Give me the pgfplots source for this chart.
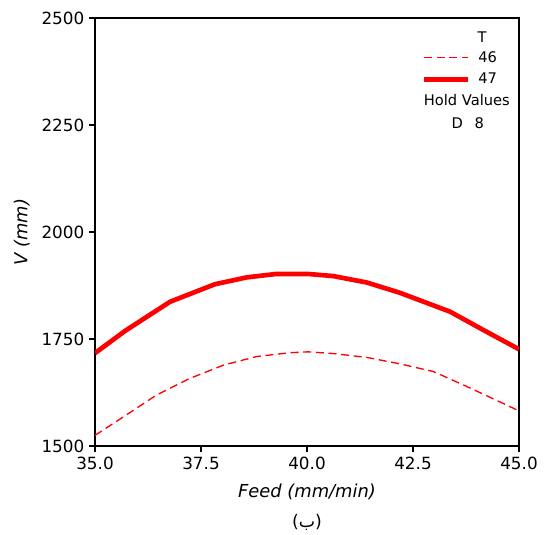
\documentclass[border=0pt]{standalone}
\usepackage{pgfplots}
\pgfplotsset{compat=1.18}
\usepackage{fontspec}
\setmainfont{DejaVu Sans}
\newfontfamily\arabicfont[Script=Arabic]{DejaVu Sans}
\TeXXeTstate=1
\begin{document}
\begin{tikzpicture}[x=1pt,y=1pt]
\begin{axis}[
  at={(0,0)}, anchor=south west,
  scale only axis,
  width=318pt, height=321pt,
  xmin=35, xmax=45, ymin=1500, ymax=2500,
  xtick={35,37.5,40,42.5,45},
  ytick={1500,1750,2000,2250,2500},
  xticklabel style={/pgf/number format/.cd,fixed,fixed zerofill,precision=1},
  yticklabel style={/pgf/number format/.cd,1000 sep={}},
  /pgf/number format/assume math mode=true,
  tick label style={font=\fontsize{12.6}{14}\selectfont},
  tick align=outside, major tick length=4.5pt,
  xtick pos=bottom, ytick pos=left,
  axis line style={line width=0.9pt},
  every tick/.style={line width=0.9pt, black},
  xlabel={\itshape Feed (mm/min)},
  ylabel={\itshape V (mm)},
  label style={font=\fontsize{13.4}{15}\selectfont},
  xlabel style={yshift=-4pt},
  ylabel style={yshift=2pt},
  legend style={draw=none, fill=none, at={(axis description cs:0.770,0.926)}, anchor=north west,
    font=\fontsize{11}{12}\selectfont, row sep=4.8pt, inner sep=0pt,
    nodes={inner sep=1pt}},
  legend cell align=left,
  legend image code/.code={\draw[#1] (0pt,0pt) -- (33pt,0pt);},
  legend style={/tikz/every odd column/.append style={column sep=5pt}},
  clip=true,
]
\addplot[red, line width=1pt, dash pattern=on 6pt off 3.5pt] coordinates {
(35.0,1525) (35.67,1568) (36.45,1619) (37.24,1658) (38.03,1689) (38.81,1709)
(39.6,1718) (40.03,1720) (40.62,1716) (41.41,1707) (42.19,1692) (42.98,1674)
(43.77,1639) (44.55,1603) (45.0,1582)};
\addlegendentry{46}
\addplot[red, line width=3.5pt] coordinates {
(35.0,1717) (35.71,1769) (36.77,1837) (37.83,1878) (38.58,1894) (39.28,1902)
(39.83,1902) (40.02,1902) (40.62,1897) (41.41,1882) (42.19,1858) (43.37,1814)
(44.16,1771) (45.0,1726)};
\addlegendentry{47}
\node[font=\fontsize{11}{12}\selectfont] at (axis description cs:0.913,0.956) {T};
\node[font=\fontsize{11}{12}\selectfont] at (axis description cs:0.877,0.808) {Hold Values};
\node[font=\fontsize{11}{12}\selectfont] at (axis description cs:0.879,0.755) {D\hspace{0.8em}8};
\end{axis}
\node[font=\fontsize{13}{15}\selectfont] at (159pt,-57pt) {({\arabicfont\beginR ب\endR})};
\path (-71.25pt,-66pt) rectangle (339pt,334.5pt);
\end{tikzpicture}
\end{document}
